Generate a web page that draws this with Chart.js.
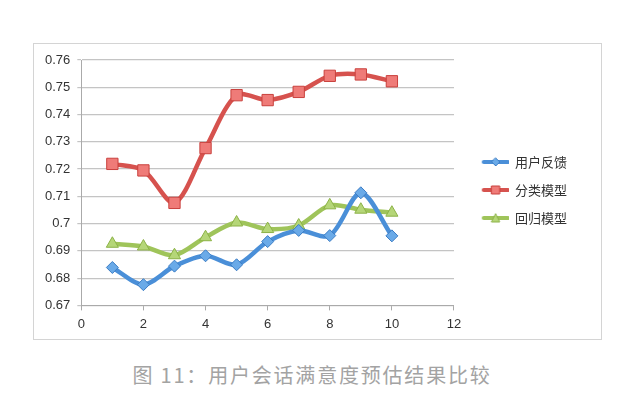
<!DOCTYPE html>
<html>
<head>
<meta charset="utf-8">
<script src="https://cdn.jsdelivr.net/npm/chart.js@4"></script>
<style>
  body { margin: 0; background: #fff; width: 632px; height: 407px; position: relative; overflow: hidden; }
  #box { position: absolute; left: 33px; top: 43px; width: 569px; height: 297px; border: 1px solid #d4d4d4; box-sizing: border-box; }
  #caption { position: absolute; left: -4px; width: 632px; top: 360px; text-align: center; font: 20px "Noto Sans CJK SC", sans-serif; letter-spacing: 1.8px; color: #a3a3a3; }
</style>
</head>
<body>
<div id="box"><canvas id="grafico"></canvas></div>
<div id="caption">图 11：用户会话满意度预估结果比较</div>
<script>
// dados
const xs = [1, 2, 3, 4, 5, 6, 7, 8, 9, 10];
const usuario = [0.6839, 0.6776, 0.6844, 0.6882, 0.6849, 0.6934, 0.6975, 0.6956, 0.7113, 0.6955];
const classificacao = [0.7219, 0.7195, 0.7076, 0.7277, 0.7471, 0.7453, 0.7483, 0.7542, 0.7547, 0.7522];
const regressao = [0.6926, 0.6916, 0.6884, 0.6950, 0.7004, 0.6980, 0.6993, 0.7067, 0.7051, 0.7040];
const nomes = ['用户反馈', '分类模型', '回归模型'];
const xTicks = [0, 2, 4, 6, 8, 10, 12];
const yTicks = [0.67, 0.68, 0.69, 0.7, 0.71, 0.72, 0.73, 0.74, 0.75, 0.76];

const estilos = [
    { line: '#4a8fd8', fill: '#6aaae8', edge: '#3b7cc4', point: 'rectRot', r: 6 },
    { line: '#d6524e', fill: '#ef7b78', edge: '#c9413d', point: 'rect', r: 8 },
    { line: '#9fc45a', fill: '#b5d678', edge: '#8cb247', point: 'triangle', r: 7 }
];

// ícone da legenda: linha + marcador (parte esquerda transparente)
function icone(st) {
    const c = document.createElement('canvas');
    c.width = 43; c.height = 12;
    const g = c.getContext('2d');
    g.strokeStyle = st.line; g.lineWidth = 4; g.lineCap = 'round';
    g.beginPath(); g.moveTo(18, 6); g.lineTo(42, 6); g.stroke();
    g.fillStyle = st.fill; g.strokeStyle = st.edge; g.lineWidth = 1;
    const cx = 30;
    g.beginPath();
    if (st.point === 'rect') { g.rect(cx - 4, 2, 8, 8); }
    else if (st.point === 'rectRot') { g.moveTo(cx, 2); g.lineTo(cx + 4, 6); g.lineTo(cx, 10); g.lineTo(cx - 4, 6); g.closePath(); }
    else { g.moveTo(cx, 2); g.lineTo(cx + 4, 10); g.lineTo(cx - 4, 10); g.closePath(); }
    g.fill(); g.stroke();
    return c;
}

// desloca a legenda para a posição do original
const ajusteLegenda = {
    id: 'ajusteLegenda',
    afterLayout(chart) {
        const lg = chart.legend;
        lg.top -= 9; lg.bottom -= 9;
        lg.left -= 3; lg.right -= 3;
    }
};

function graficoSatisfacao() {
    const ctx = document.getElementById('grafico').getContext('2d');
    const series = [usuario, classificacao, regressao];
    const datasets = series.map((vals, idx) => ({
        label: nomes[idx],
        data: xs.map((x, i) => ({ x: x, y: vals[i] })),
        borderColor: estilos[idx].line,
        borderWidth: 4.5,
        tension: 0.3,
        fill: false,
        pointStyle: estilos[idx].point,
        pointRadius: estilos[idx].r,
        pointBackgroundColor: estilos[idx].fill,
        pointBorderColor: estilos[idx].edge,
        pointBorderWidth: 1
    }));
    new Chart(ctx, {
        type: 'line',
        data: { datasets: datasets },
        plugins: [ajusteLegenda],
        options: {
            responsive: true,
            maintainAspectRatio: false,
            animation: false,
            layout: { padding: { left: 4, top: 16, right: 21, bottom: 1 } },
            plugins: {
                tooltip: { enabled: false },
                legend: {
                    position: 'right',
                    labels: {
                        usePointStyle: true,
                        pointStyleWidth: 42.5,
                        padding: 15,
                        color: '#333',
                        font: { family: '"Noto Sans CJK SC", sans-serif', size: 13 },
                        generateLabels: chart => chart.data.datasets.map((d, i) => ({
                            text: d.label,
                            pointStyle: icone(estilos[i]),
                            fillStyle: estilos[i].line,
                            strokeStyle: estilos[i].line,
                            lineWidth: 0,
                            fontColor: '#333',
                            datasetIndex: i
                        }))
                    }
                }
            },
            scales: {
                x: {
                    type: 'linear',
                    min: xTicks[0],
                    max: xTicks[xTicks.length - 1],
                    afterBuildTicks: s => { s.ticks = xTicks.map(v => ({ value: v })); },
                    ticks: { color: '#333', padding: 6, font: { family: '"Liberation Sans", Arial', size: 13 } },
                    grid: { drawOnChartArea: false, drawTicks: true, tickLength: 5, color: '#aaa' },
                    border: { color: '#aaa' }
                },
                y: {
                    min: yTicks[0],
                    max: yTicks[yTicks.length - 1],
                    afterBuildTicks: s => { s.ticks = yTicks.map(v => ({ value: v })); },
                    ticks: { color: '#333', padding: 7, callback: v => String(+v.toFixed(2)), font: { family: '"Liberation Sans", Arial', size: 13 } },
                    grid: { color: '#c4c4c4', tickLength: 4, lineWidth: 1.2 },
                    border: { color: '#aaa' }
                }
            }
        }
    });
}

document.addEventListener('DOMContentLoaded', graficoSatisfacao);
</script>
</body>
</html>
